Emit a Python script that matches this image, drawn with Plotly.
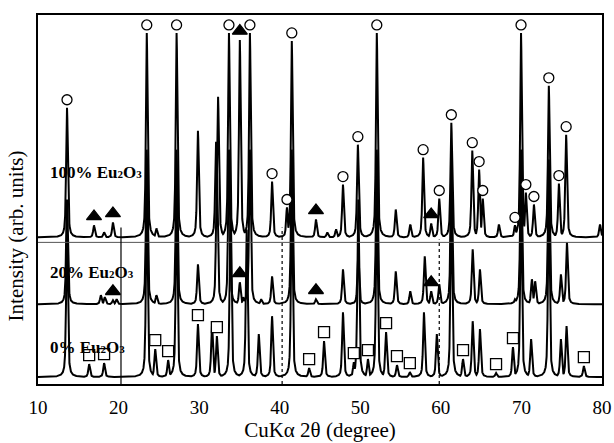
import numpy as np
import plotly.graph_objects as go

# ---------------- data ----------------
# 2-theta axis
x_ticks = [10, 20, 30, 40, 50, 60, 70, 80]

# 100% Eu2O3 pattern: peak positions (deg), peak tops (arb. units), phase marks
p100_pos = [13.6, 16.95, 18.2, 19.3, 23.5, 24.7, 27.2, 29.85, 32.1, 32.35, 33.7, 35.05,
            36.3, 39.05, 40.9, 41.5, 44.5, 45.9, 47.0, 47.85, 49.7, 52.05, 54.4, 56.2,
            57.8, 58.8, 59.8, 61.3, 63.9, 64.75, 65.2, 67.2, 69.2, 69.95, 70.55, 71.55,
            73.4, 74.65, 75.55, 79.75]
p100_top = [277, 159, 152, 162, 352, 156, 352, 254, 243, 288, 352, 345,
            352, 203, 177, 344, 165, 152, 155, 200, 240, 352, 175, 160,
            227, 161, 186, 262, 234, 215, 186, 160, 159, 352, 192, 180,
            299, 201, 250, 160]
p100_mark = ['c', 't', '', 't', 'c', '', 'c', '', '', '', 'c', 't',
             'c', 'c', 'c', 'c', 't', '', '', 'c', 'c', 'c', '', '',
             'c', 't', 'c', 'c', 'c', 'c', 'c', '', 'c', 'c', 'c', 'c',
             'c', 'c', 'c', '']
p100_base = 147

# 20% Eu2O3 pattern
p20_pos = [13.6, 17.8, 18.3, 19.3, 19.75, 23.5, 24.7, 27.2, 29.85, 32.2, 33.7, 35.05,
           35.5, 36.3, 37.7, 39.05, 41.5, 44.5, 47.85, 49.75, 52.05, 54.4, 56.2, 58.0,
           58.8, 59.8, 61.3, 63.95, 64.85, 69.2, 69.95, 71.3, 71.7, 73.4, 74.9, 75.65]
p20_top = [185, 89, 87, 84, 85, 235, 89, 235, 120, 215, 235, 102,
           87, 235, 85, 108, 235, 85, 115, 130, 235, 113, 93, 128,
           93, 100, 215, 135, 115, 85, 235, 105, 103, 225, 110, 142]
p20_mark = ['', '', '', 't', '', '', '', '', '', '', '', 't',
            '', '', '', '', '', 't', '', '', '', '', '', '',
            't', '', '', '', '', '', '', '', '', '', '', '']
p20_base = 80

# 0% Eu2O3 pattern
p0_pos = [13.6, 16.35, 18.2, 23.5, 24.55, 26.15, 27.2, 29.85, 31.6, 32.2, 33.9, 35.9,
          37.4, 39.05, 41.5, 43.65, 45.5, 47.85, 49.2, 49.75, 50.95, 52.05, 53.2, 54.55,
          56.15, 57.9, 59.5, 61.3, 62.75, 63.95, 64.85, 66.85, 68.95, 69.95, 71.2, 73.4,
          74.9, 75.6, 77.75]
p0_top = [155, 20, 21, 185, 35, 24, 185, 60, 60, 48, 185, 155,
          50, 68, 185, 16, 43, 72, 22, 185, 25, 185, 52, 19,
          12, 72, 50, 185, 25, 63, 55, 11, 37, 185, 45, 185,
          45, 58, 18]
p0_mark = ['', 's', 's', '', 's', 's', '', 's', '', 's', '', '',
           '', '', '', 's', 's', '', 's', '', 's', '', 's', 's',
           's', '', '', '', 's', '', '', 's', 's', '', '', '',
           '', '', 's']
p0_base = 7

SUB = "<span style='font-size:11px'>{}</span>"
labels = ["100% Eu" + SUB.format("2") + "O" + SUB.format("3"),
          "20% Eu" + SUB.format("2") + "O" + SUB.format("3"),
          "0% Eu" + SUB.format("2") + "O" + SUB.format("3")]
label_y = [212, 112, 37]

sep_levels = [142]
guide_x = [20.3, 40.3, 59.8]
guide_top = [157, 157, 145]
guide_dash = ['solid', 'dot', 'dot']

x_title = "CuKα 2θ (degree)"
y_title = "Intensity (arb. units)"

# ---------------- build figure ----------------
FONT = "Liberation Serif, Times New Roman, serif"
xg = np.linspace(10, 80, 7001)


def pattern(pos, tops, base, fwhm=0.25, eta=0.6):
    y = np.full_like(xg, float(base))
    for p, t in zip(pos, tops):
        d = (xg - p) / (fwhm / 2)
        shape = eta / (1 + d ** 2) + (1 - eta) * np.exp(-np.log(2) * d ** 2)
        y = np.maximum(y, base + (t - base) * shape)
    return y


fig = go.Figure()
sets = [(p100_pos, p100_top, p100_mark, p100_base),
        (p20_pos, p20_top, p20_mark, p20_base),
        (p0_pos, p0_top, p0_mark, p0_base)]

for pos, top, mark, base in sets:
    fig.add_trace(go.Scatter(x=xg, y=pattern(pos, top, base), mode="lines",
                             line=dict(color="black", width=2), hoverinfo="skip",
                             showlegend=False))

sym = {'c': ('circle', 10, 'white', 8), 't': ('triangle-up', 13, 'black', 9),
       's': ('square', 11, 'white', 9)}
for key, (symbol, size, fill, off) in sym.items():
    xs, ys = [], []
    for pos, top, mark, base in sets:
        for p, t, m in zip(pos, top, mark):
            if m == key:
                xs.append(p)
                ys.append(t + off)
    fig.add_trace(go.Scatter(x=xs, y=ys, mode="markers", showlegend=False,
                             marker=dict(symbol=symbol, size=size, color=fill,
                                         line=dict(color="black", width=1.3))))

for lv in sep_levels:
    fig.add_shape(type="line", xref="paper", x0=0, x1=1, y0=lv, y1=lv,
                  line=dict(color="#555555", width=1))
for gx, gt, gd in zip(guide_x, guide_top, guide_dash):
    fig.add_shape(type="line", x0=gx, x1=gx, y0=0, y1=gt,
                  line=dict(color="black", width=1.2, dash=gd))

for txt, ly in zip(labels, label_y):
    fig.add_annotation(x=11.2, y=ly, text="<b>" + txt + "</b>", showarrow=False,
                       xanchor="left", yanchor="middle",
                       font=dict(family=FONT, size=17, color="black"))

# y-axis title placed as rotated text (sits slightly below the plot centre)
fig.add_annotation(xref="paper", yref="paper", x=-0.039, y=0.40, text=y_title,
                   textangle=-90, showarrow=False, xanchor="center", yanchor="middle",
                   font=dict(family=FONT, size=21, color="black"))

fig.update_layout(
    width=614, height=443,
    margin=dict(l=38, r=12, t=15, b=59),
    paper_bgcolor="white", plot_bgcolor="white",
    font=dict(family=FONT, color="black"),
    xaxis=dict(range=[10, 80], tickvals=x_ticks, ticks="", showgrid=False,
               zeroline=False, showline=True, mirror=True, linecolor="black",
               linewidth=2, tickfont=dict(family=FONT, size=19),
               ticklabelstandoff=5,
               title=dict(text=x_title, font=dict(family=FONT, size=21),
                          standoff=2), automargin=False),
    yaxis=dict(range=[0, 370], showticklabels=False, ticks="", showgrid=False,
               zeroline=False, showline=True, mirror=True, linecolor="black",
               linewidth=2, automargin=False),
)

fig.write_html("out.html")
